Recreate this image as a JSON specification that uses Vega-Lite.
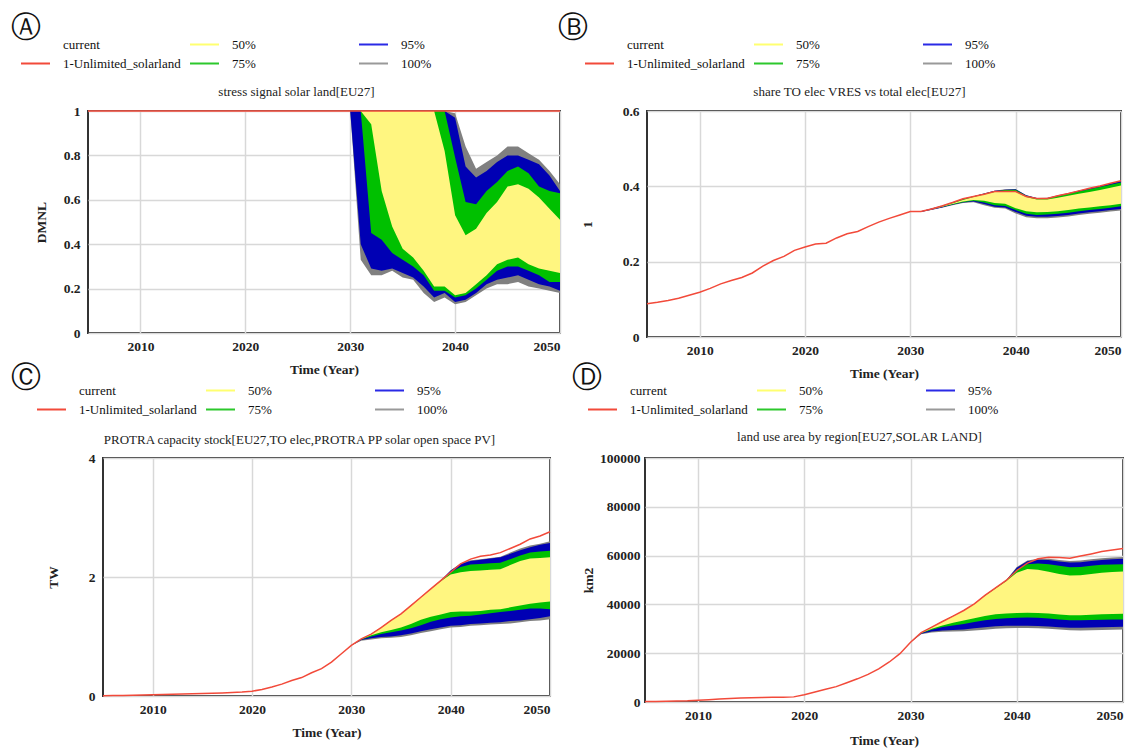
{
"$schema":"https://vega.github.io/schema/vega-lite/v6.json",
"padding":{"left":10,"top":12,"right":0,"bottom":0},
"background":"white",
"config":{
 "view":{"stroke":"#333","strokeWidth":2},
 "font":"Liberation Serif",
 "axis":{"labelFont":"Liberation Serif","labelFontSize":13.5,"labelFontWeight":"bold","labelColor":"#222","titleFont":"Liberation Serif","titleFontSize":13.5,"titleFontWeight":"bold","titleColor":"#222","gridColor":"#d8d8d8","gridWidth":1.5,"ticks":false,"domain":false},
 "legend":{"columns":3,"direction":"horizontal","orient":"none","symbolType":"stroke","symbolSize":841,"symbolStrokeWidth":2,"labelFont":"Liberation Serif","labelFontSize":13,"labelColor":"#111","labelLimit":0,"columnPadding":8,"rowPadding":4,"clipHeight":15,"gridAlign":"all","labelOffset":12,"padding":0},
 "title":{"anchor":"start","frame":"group","font":"DejaVu Sans","fontSize":30,"fontWeight":"normal","color":"#111","offset":-10}
},
"datasets":{
 "lineA":[{"year":2005,"value":1},{"year":2006,"value":1},{"year":2007,"value":1},{"year":2008,"value":1},{"year":2009,"value":1},{"year":2010,"value":1},{"year":2011,"value":1},{"year":2012,"value":1},{"year":2013,"value":1},{"year":2014,"value":1},{"year":2015,"value":1},{"year":2016,"value":1},{"year":2017,"value":1},{"year":2018,"value":1},{"year":2019,"value":1},{"year":2020,"value":1},{"year":2021,"value":1},{"year":2022,"value":1},{"year":2023,"value":1},{"year":2024,"value":1},{"year":2025,"value":1},{"year":2026,"value":1},{"year":2027,"value":1},{"year":2028,"value":1},{"year":2029,"value":1},{"year":2030,"value":1},{"year":2031,"value":1},{"year":2032,"value":1},{"year":2033,"value":1},{"year":2034,"value":1},{"year":2035,"value":1},{"year":2036,"value":1},{"year":2037,"value":1},{"year":2038,"value":1},{"year":2039,"value":1},{"year":2040,"value":1},{"year":2041,"value":1},{"year":2042,"value":1},{"year":2043,"value":1},{"year":2044,"value":1},{"year":2045,"value":1},{"year":2046,"value":1},{"year":2047,"value":1},{"year":2048,"value":1},{"year":2049,"value":1},{"year":2050,"value":1}],
 "bandA":[
  {"year":2030,"lo100":1,"lo95":1,"lo75":1,"lo50":1,"hi50":1,"hi75":1,"hi95":1,"hi100":1},
  {"year":2031,"lo100":0.33,"lo95":0.4,"lo75":1,"lo50":1,"hi50":1,"hi75":1,"hi95":1,"hi100":1},
  {"year":2032,"lo100":0.26,"lo95":0.29,"lo75":0.45,"lo50":0.94,"hi50":1,"hi75":1,"hi95":1,"hi100":1},
  {"year":2033,"lo100":0.26,"lo95":0.28,"lo75":0.42,"lo50":0.64,"hi50":1,"hi75":1,"hi95":1,"hi100":1},
  {"year":2034,"lo100":0.28,"lo95":0.29,"lo75":0.36,"lo50":0.48,"hi50":1,"hi75":1,"hi95":1,"hi100":1},
  {"year":2035,"lo100":0.25,"lo95":0.27,"lo75":0.33,"lo50":0.38,"hi50":1,"hi75":1,"hi95":1,"hi100":1},
  {"year":2036,"lo100":0.24,"lo95":0.25,"lo75":0.3,"lo50":0.34,"hi50":1,"hi75":1,"hi95":1,"hi100":1},
  {"year":2037,"lo100":0.18,"lo95":0.21,"lo75":0.26,"lo50":0.28,"hi50":1,"hi75":1,"hi95":1,"hi100":1},
  {"year":2038,"lo100":0.14,"lo95":0.16,"lo75":0.19,"lo50":0.21,"hi50":1,"hi75":1,"hi95":1,"hi100":1},
  {"year":2039,"lo100":0.16,"lo95":0.18,"lo75":0.19,"lo50":0.21,"hi50":0.82,"hi75":1,"hi95":1,"hi100":1},
  {"year":2040,"lo100":0.13,"lo95":0.14,"lo75":0.16,"lo50":0.17,"hi50":0.53,"hi75":0.79,"hi95":0.97,"hi100":0.99},
  {"year":2041,"lo100":0.14,"lo95":0.15,"lo75":0.17,"lo50":0.18,"hi50":0.44,"hi75":0.59,"hi95":0.75,"hi100":0.84},
  {"year":2042,"lo100":0.17,"lo95":0.18,"lo75":0.2,"lo50":0.22,"hi50":0.47,"hi75":0.58,"hi95":0.7,"hi100":0.74},
  {"year":2043,"lo100":0.2,"lo95":0.22,"lo75":0.24,"lo50":0.26,"hi50":0.54,"hi75":0.64,"hi95":0.73,"hi100":0.77},
  {"year":2044,"lo100":0.22,"lo95":0.24,"lo75":0.28,"lo50":0.31,"hi50":0.59,"hi75":0.68,"hi95":0.77,"hi100":0.8},
  {"year":2045,"lo100":0.22,"lo95":0.25,"lo75":0.3,"lo50":0.33,"hi50":0.66,"hi75":0.73,"hi95":0.8,"hi100":0.84},
  {"year":2046,"lo100":0.23,"lo95":0.26,"lo75":0.3,"lo50":0.34,"hi50":0.67,"hi75":0.75,"hi95":0.8,"hi100":0.84},
  {"year":2047,"lo100":0.21,"lo95":0.24,"lo75":0.28,"lo50":0.31,"hi50":0.65,"hi75":0.72,"hi95":0.78,"hi100":0.81},
  {"year":2048,"lo100":0.2,"lo95":0.22,"lo75":0.26,"lo50":0.29,"hi50":0.61,"hi75":0.66,"hi95":0.76,"hi100":0.78},
  {"year":2049,"lo100":0.19,"lo95":0.21,"lo75":0.23,"lo50":0.28,"hi50":0.56,"hi75":0.64,"hi95":0.71,"hi100":0.73},
  {"year":2050,"lo100":0.18,"lo95":0.19,"lo75":0.23,"lo50":0.27,"hi50":0.51,"hi75":0.63,"hi95":0.64,"hi100":0.67}],
 "lineB":[{"year":2005,"value":0.088},{"year":2006,"value":0.092},{"year":2007,"value":0.097},{"year":2008,"value":0.103},{"year":2009,"value":0.111},{"year":2010,"value":0.119},{"year":2011,"value":0.129},{"year":2012,"value":0.141},{"year":2013,"value":0.15},{"year":2014,"value":0.158},{"year":2015,"value":0.17},{"year":2016,"value":0.188},{"year":2017,"value":0.203},{"year":2018,"value":0.214},{"year":2019,"value":0.23},{"year":2020,"value":0.239},{"year":2021,"value":0.247},{"year":2022,"value":0.249},{"year":2023,"value":0.263},{"year":2024,"value":0.274},{"year":2025,"value":0.28},{"year":2026,"value":0.293},{"year":2027,"value":0.305},{"year":2028,"value":0.315},{"year":2029,"value":0.324},{"year":2030,"value":0.333},{"year":2031,"value":0.333},{"year":2032,"value":0.34},{"year":2033,"value":0.348},{"year":2034,"value":0.357},{"year":2035,"value":0.367},{"year":2036,"value":0.373},{"year":2037,"value":0.379},{"year":2038,"value":0.386},{"year":2039,"value":0.386},{"year":2040,"value":0.386},{"year":2041,"value":0.373},{"year":2042,"value":0.368},{"year":2043,"value":0.368},{"year":2044,"value":0.375},{"year":2045,"value":0.381},{"year":2046,"value":0.388},{"year":2047,"value":0.395},{"year":2048,"value":0.401},{"year":2049,"value":0.408},{"year":2050,"value":0.415}],
 "bandB":[
  {"year":2030,"lo100":0.333,"lo95":0.333,"lo75":0.333,"lo50":0.333,"hi50":0.333,"hi75":0.333,"hi95":0.333,"hi100":0.333},
  {"year":2031,"lo100":0.332,"lo95":0.332,"lo75":0.333,"lo50":0.333,"hi50":0.333,"hi75":0.333,"hi95":0.334,"hi100":0.334},
  {"year":2032,"lo100":0.337,"lo95":0.338,"lo75":0.339,"lo50":0.339,"hi50":0.34,"hi75":0.34,"hi95":0.341,"hi100":0.341},
  {"year":2033,"lo100":0.343,"lo95":0.344,"lo75":0.345,"lo50":0.346,"hi50":0.347,"hi75":0.348,"hi95":0.348,"hi100":0.349},
  {"year":2034,"lo100":0.35,"lo95":0.351,"lo75":0.352,"lo50":0.353,"hi50":0.355,"hi75":0.356,"hi95":0.357,"hi100":0.357},
  {"year":2035,"lo100":0.356,"lo95":0.357,"lo75":0.358,"lo50":0.36,"hi50":0.364,"hi75":0.366,"hi95":0.367,"hi100":0.367},
  {"year":2036,"lo100":0.358,"lo95":0.36,"lo75":0.362,"lo50":0.364,"hi50":0.372,"hi75":0.373,"hi95":0.374,"hi100":0.374},
  {"year":2037,"lo100":0.35,"lo95":0.353,"lo75":0.357,"lo50":0.362,"hi50":0.378,"hi75":0.38,"hi95":0.381,"hi100":0.381},
  {"year":2038,"lo100":0.343,"lo95":0.346,"lo75":0.35,"lo50":0.356,"hi50":0.385,"hi75":0.387,"hi95":0.388,"hi100":0.388},
  {"year":2039,"lo100":0.341,"lo95":0.344,"lo75":0.348,"lo50":0.354,"hi50":0.386,"hi75":0.39,"hi95":0.391,"hi100":0.392},
  {"year":2040,"lo100":0.328,"lo95":0.332,"lo75":0.337,"lo50":0.342,"hi50":0.386,"hi75":0.391,"hi95":0.392,"hi100":0.393},
  {"year":2041,"lo100":0.318,"lo95":0.322,"lo75":0.327,"lo50":0.334,"hi50":0.372,"hi75":0.375,"hi95":0.376,"hi100":0.376},
  {"year":2042,"lo100":0.315,"lo95":0.319,"lo75":0.324,"lo50":0.331,"hi50":0.365,"hi75":0.368,"hi95":0.369,"hi100":0.369},
  {"year":2043,"lo100":0.315,"lo95":0.319,"lo75":0.325,"lo50":0.332,"hi50":0.365,"hi75":0.368,"hi95":0.369,"hi100":0.37},
  {"year":2044,"lo100":0.317,"lo95":0.321,"lo75":0.327,"lo50":0.334,"hi50":0.37,"hi75":0.374,"hi95":0.375,"hi100":0.376},
  {"year":2045,"lo100":0.32,"lo95":0.324,"lo75":0.33,"lo50":0.337,"hi50":0.375,"hi75":0.38,"hi95":0.381,"hi100":0.382},
  {"year":2046,"lo100":0.324,"lo95":0.328,"lo75":0.334,"lo50":0.341,"hi50":0.38,"hi75":0.386,"hi95":0.388,"hi100":0.389},
  {"year":2047,"lo100":0.327,"lo95":0.331,"lo75":0.337,"lo50":0.344,"hi50":0.385,"hi75":0.392,"hi95":0.394,"hi100":0.395},
  {"year":2048,"lo100":0.33,"lo95":0.334,"lo75":0.34,"lo50":0.347,"hi50":0.39,"hi75":0.398,"hi95":0.4,"hi100":0.401},
  {"year":2049,"lo100":0.333,"lo95":0.337,"lo75":0.343,"lo50":0.35,"hi50":0.396,"hi75":0.404,"hi95":0.407,"hi100":0.408},
  {"year":2050,"lo100":0.336,"lo95":0.34,"lo75":0.347,"lo50":0.354,"hi50":0.402,"hi75":0.41,"hi95":0.414,"hi100":0.415}],
 "lineC":[{"year":2005,"value":0.005},{"year":2006,"value":0.007},{"year":2007,"value":0.009},{"year":2008,"value":0.012},{"year":2009,"value":0.016},{"year":2010,"value":0.02},{"year":2011,"value":0.025},{"year":2012,"value":0.03},{"year":2013,"value":0.034},{"year":2014,"value":0.038},{"year":2015,"value":0.042},{"year":2016,"value":0.047},{"year":2017,"value":0.052},{"year":2018,"value":0.058},{"year":2019,"value":0.066},{"year":2020,"value":0.08},{"year":2021,"value":0.11},{"year":2022,"value":0.15},{"year":2023,"value":0.2},{"year":2024,"value":0.26},{"year":2025,"value":0.31},{"year":2026,"value":0.39},{"year":2027,"value":0.46},{"year":2028,"value":0.57},{"year":2029,"value":0.71},{"year":2030,"value":0.85},{"year":2031,"value":0.96},{"year":2032,"value":1.04},{"year":2033,"value":1.15},{"year":2034,"value":1.27},{"year":2035,"value":1.38},{"year":2036,"value":1.52},{"year":2037,"value":1.66},{"year":2038,"value":1.8},{"year":2039,"value":1.94},{"year":2040,"value":2.08},{"year":2041,"value":2.22},{"year":2042,"value":2.3},{"year":2043,"value":2.35},{"year":2044,"value":2.37},{"year":2045,"value":2.41},{"year":2046,"value":2.48},{"year":2047,"value":2.55},{"year":2048,"value":2.64},{"year":2049,"value":2.69},{"year":2050,"value":2.76}],
 "bandC":[
  {"year":2030,"lo100":0.85,"lo95":0.85,"lo75":0.85,"lo50":0.85,"hi50":0.85,"hi75":0.85,"hi95":0.85,"hi100":0.85},
  {"year":2031,"lo100":0.93,"lo95":0.94,"lo75":0.95,"lo50":0.96,"hi50":0.96,"hi75":0.96,"hi95":0.96,"hi100":0.96},
  {"year":2032,"lo100":0.95,"lo95":0.97,"lo75":1.0,"lo50":1.02,"hi50":1.04,"hi75":1.04,"hi95":1.04,"hi100":1.04},
  {"year":2033,"lo100":0.97,"lo95":0.99,"lo75":1.04,"lo50":1.07,"hi50":1.15,"hi75":1.15,"hi95":1.15,"hi100":1.15},
  {"year":2034,"lo100":0.98,"lo95":1.0,"lo75":1.07,"lo50":1.11,"hi50":1.27,"hi75":1.27,"hi95":1.27,"hi100":1.27},
  {"year":2035,"lo100":0.99,"lo95":1.02,"lo75":1.1,"lo50":1.15,"hi50":1.38,"hi75":1.38,"hi95":1.38,"hi100":1.38},
  {"year":2036,"lo100":1.02,"lo95":1.05,"lo75":1.14,"lo50":1.21,"hi50":1.52,"hi75":1.52,"hi95":1.52,"hi100":1.52},
  {"year":2037,"lo100":1.06,"lo95":1.09,"lo75":1.19,"lo50":1.28,"hi50":1.66,"hi75":1.66,"hi95":1.66,"hi100":1.66},
  {"year":2038,"lo100":1.09,"lo95":1.12,"lo75":1.25,"lo50":1.33,"hi50":1.8,"hi75":1.8,"hi95":1.8,"hi100":1.8},
  {"year":2039,"lo100":1.12,"lo95":1.15,"lo75":1.29,"lo50":1.37,"hi50":1.93,"hi75":1.94,"hi95":1.94,"hi100":1.94},
  {"year":2040,"lo100":1.15,"lo95":1.18,"lo75":1.32,"lo50":1.41,"hi50":2.04,"hi75":2.08,"hi95":2.11,"hi100":2.11},
  {"year":2041,"lo100":1.16,"lo95":1.19,"lo75":1.34,"lo50":1.42,"hi50":2.08,"hi75":2.17,"hi95":2.22,"hi100":2.23},
  {"year":2042,"lo100":1.18,"lo95":1.21,"lo75":1.35,"lo50":1.42,"hi50":2.1,"hi75":2.21,"hi95":2.27,"hi100":2.28},
  {"year":2043,"lo100":1.19,"lo95":1.22,"lo75":1.37,"lo50":1.43,"hi50":2.11,"hi75":2.22,"hi95":2.29,"hi100":2.3},
  {"year":2044,"lo100":1.2,"lo95":1.23,"lo75":1.39,"lo50":1.45,"hi50":2.12,"hi75":2.23,"hi95":2.31,"hi100":2.32},
  {"year":2045,"lo100":1.21,"lo95":1.24,"lo75":1.41,"lo50":1.46,"hi50":2.13,"hi75":2.24,"hi95":2.33,"hi100":2.34},
  {"year":2046,"lo100":1.22,"lo95":1.26,"lo75":1.43,"lo50":1.49,"hi50":2.2,"hi75":2.3,"hi95":2.39,"hi100":2.41},
  {"year":2047,"lo100":1.24,"lo95":1.27,"lo75":1.45,"lo50":1.52,"hi50":2.27,"hi75":2.36,"hi95":2.45,"hi100":2.48},
  {"year":2048,"lo100":1.26,"lo95":1.29,"lo75":1.47,"lo50":1.55,"hi50":2.31,"hi75":2.41,"hi95":2.5,"hi100":2.53},
  {"year":2049,"lo100":1.27,"lo95":1.31,"lo75":1.47,"lo50":1.57,"hi50":2.32,"hi75":2.43,"hi95":2.54,"hi100":2.56},
  {"year":2050,"lo100":1.29,"lo95":1.34,"lo75":1.46,"lo50":1.59,"hi50":2.33,"hi75":2.44,"hi95":2.57,"hi100":2.6}],
 "lineD":[{"year":2005,"value":200},{"year":2006,"value":250},{"year":2007,"value":300},{"year":2008,"value":400},{"year":2009,"value":500},{"year":2010,"value":700},{"year":2011,"value":950},{"year":2012,"value":1200},{"year":2013,"value":1450},{"year":2014,"value":1650},{"year":2015,"value":1750},{"year":2016,"value":1850},{"year":2017,"value":1900},{"year":2018,"value":1950},{"year":2019,"value":2100},{"year":2020,"value":3000},{"year":2021,"value":4100},{"year":2022,"value":5200},{"year":2023,"value":6300},{"year":2024,"value":7900},{"year":2025,"value":9500},{"year":2026,"value":11300},{"year":2027,"value":13600},{"year":2028,"value":16400},{"year":2029,"value":19800},{"year":2030,"value":24500},{"year":2031,"value":28400},{"year":2032,"value":30700},{"year":2033,"value":33000},{"year":2034,"value":35200},{"year":2035,"value":37500},{"year":2036,"value":40200},{"year":2037,"value":43700},{"year":2038,"value":46800},{"year":2039,"value":49800},{"year":2040,"value":53900},{"year":2041,"value":56900},{"year":2042,"value":58700},{"year":2043,"value":59300},{"year":2044,"value":59200},{"year":2045,"value":58900},{"year":2046,"value":59800},{"year":2047,"value":60700},{"year":2048,"value":61700},{"year":2049,"value":62300},{"year":2050,"value":62900}],
 "bandD":[
  {"year":2030,"lo100":24500,"lo95":24500,"lo75":24500,"lo50":24500,"hi50":24500,"hi75":24500,"hi95":24500,"hi100":24500},
  {"year":2031,"lo100":27800,"lo95":28000,"lo75":28200,"lo50":28300,"hi50":28400,"hi75":28400,"hi95":28400,"hi100":28400},
  {"year":2032,"lo100":28500,"lo95":28900,"lo75":29600,"lo50":30000,"hi50":30700,"hi75":30700,"hi95":30700,"hi100":30700},
  {"year":2033,"lo100":28800,"lo95":29300,"lo75":30700,"lo50":31400,"hi50":33000,"hi75":33000,"hi95":33000,"hi100":33000},
  {"year":2034,"lo100":28900,"lo95":29500,"lo75":31400,"lo50":32500,"hi50":35200,"hi75":35200,"hi95":35200,"hi100":35200},
  {"year":2035,"lo100":29000,"lo95":29700,"lo75":32000,"lo50":33400,"hi50":37500,"hi75":37500,"hi95":37500,"hi100":37500},
  {"year":2036,"lo100":29300,"lo95":30200,"lo75":32800,"lo50":34300,"hi50":40200,"hi75":40200,"hi95":40200,"hi100":40200},
  {"year":2037,"lo100":29600,"lo95":30600,"lo75":33500,"lo50":35200,"hi50":43500,"hi75":43600,"hi95":43700,"hi100":43700},
  {"year":2038,"lo100":30000,"lo95":31000,"lo75":34000,"lo50":36000,"hi50":46500,"hi75":46700,"hi95":46800,"hi100":46800},
  {"year":2039,"lo100":30200,"lo95":31200,"lo75":34300,"lo50":36300,"hi50":49500,"hi75":49800,"hi95":49900,"hi100":49900},
  {"year":2040,"lo100":30300,"lo95":31200,"lo75":34500,"lo50":36500,"hi50":53000,"hi75":54300,"hi95":55000,"hi100":55300},
  {"year":2041,"lo100":30300,"lo95":31200,"lo75":34600,"lo50":36600,"hi50":54500,"hi75":56500,"hi95":57700,"hi100":58000},
  {"year":2042,"lo100":30200,"lo95":31100,"lo75":34500,"lo50":36500,"hi50":54200,"hi75":56800,"hi95":58300,"hi100":58700},
  {"year":2043,"lo100":30000,"lo95":30900,"lo75":34200,"lo50":36300,"hi50":53400,"hi75":56500,"hi95":58200,"hi100":58700},
  {"year":2044,"lo100":29700,"lo95":30600,"lo75":33800,"lo50":35900,"hi50":52500,"hi75":55800,"hi95":57600,"hi100":58200},
  {"year":2045,"lo100":29400,"lo95":30400,"lo75":33500,"lo50":35600,"hi50":51800,"hi75":55200,"hi95":57200,"hi100":57800},
  {"year":2046,"lo100":29300,"lo95":30400,"lo75":33500,"lo50":35600,"hi50":51900,"hi75":55300,"hi95":57300,"hi100":58000},
  {"year":2047,"lo100":29400,"lo95":30500,"lo75":33600,"lo50":35800,"hi50":52500,"hi75":55800,"hi95":57800,"hi100":58500},
  {"year":2048,"lo100":29500,"lo95":30600,"lo75":33700,"lo50":36000,"hi50":53000,"hi75":56200,"hi95":58200,"hi100":58900},
  {"year":2049,"lo100":29600,"lo95":30700,"lo75":33800,"lo50":36100,"hi50":53300,"hi75":56400,"hi95":58500,"hi100":59200},
  {"year":2050,"lo100":29700,"lo95":30800,"lo75":33800,"lo50":36200,"hi50":53500,"hi75":56500,"hi95":58700,"hi100":59400}]
},
"spacing":-19,
"resolve":{"scale":{"fill":"independent","stroke":"independent"}},
"vconcat":[
 {"hconcat":[
  {"width":472,"height":222,
   "title":{"text":"Ⓐ","dx":-77,"offset":-6},
   "layer":[
    {"data":{"name":"bandA"},"mark":{"type":"area","opacity":1},"encoding":{
      "x":{"field":"year","type":"quantitative","scale":{"domain":[2005,2050]},"axis":{"values":[2010,2020,2030,2040,2050],"format":"d","labelPadding":6,"title":"Time (Year)","titleY":36,"titleBaseline":"middle","grid":true}},
      "y":{"field":"lo100","type":"quantitative","scale":{"domain":[0,1],"nice":false},"axis":{"values":[0,0.2,0.4,0.6,0.8,1],"format":"~g","labelPadding":8,"title":"DMNL","titleX":-47,"titleY":111,"titleBaseline":"middle","grid":true}},
      "y2":{"field":"hi100"},
      "fill":{"datum":"100%","type":"nominal","scale":{"domain":["50%","75%","95%","100%"],"range":["#fff680","#00c000","#0000b4","#808080"]},"legend":null}}},
    {"data":{"name":"bandA"},"mark":{"type":"area","opacity":1},"encoding":{"x":{"field":"year","type":"quantitative","axis":null},"y":{"field":"lo95","type":"quantitative","axis":null},"y2":{"field":"hi95"},"fill":{"datum":"95%","type":"nominal","legend":null}}},
    {"data":{"name":"bandA"},"mark":{"type":"area","opacity":1},"encoding":{"x":{"field":"year","type":"quantitative","axis":null},"y":{"field":"lo75","type":"quantitative","axis":null},"y2":{"field":"hi75"},"fill":{"datum":"75%","type":"nominal","legend":null}}},
    {"data":{"name":"bandA"},"mark":{"type":"area","opacity":1},"encoding":{"x":{"field":"year","type":"quantitative","axis":null},"y":{"field":"lo50","type":"quantitative","axis":null},"y2":{"field":"hi50"},"fill":{"datum":"50%","type":"nominal","legend":null}}},
    {"data":{"name":"lineA"},"mark":{"type":"line","strokeWidth":1.5},"encoding":{
      "x":{"field":"year","type":"quantitative","axis":{"orient":"top","labels":false,"grid":false,"title":"stress signal solar land[EU27]","titleFontWeight":"normal","titleFontSize":13,"titleX":208,"titleY":-20,"titleBaseline":"middle"}},
      "y":{"field":"value","type":"quantitative","axis":null},
      "stroke":{"datum":"1-Unlimited_solarland","type":"nominal","scale":{"domain":["current","50%","95%","1-Unlimited_solarland","75%","100%"],"range":["rgba(0,0,0,0)","#ffff70","#2a2ae6","#f24a3a","#2cc82c","#999999"]},"legend":{"title":null,"legendX":-68,"legendY":-74}}}}
   ],
   "resolve":{"axis":{"x":"independent","y":"independent"}}},
  {"width":474,"height":226,
   "title":{"text":"Ⓑ","dx":-89,"offset":-6},
   "layer":[
    {"data":{"name":"bandB"},"mark":{"type":"area","opacity":1},"encoding":{
      "x":{"field":"year","type":"quantitative","scale":{"domain":[2005,2050]},"axis":{"values":[2010,2020,2030,2040,2050],"format":"d","labelPadding":6,"title":"Time (Year)","titleY":36,"titleBaseline":"middle","grid":true}},
      "y":{"field":"lo100","type":"quantitative","scale":{"domain":[0,0.6],"nice":false},"axis":{"values":[0,0.2,0.4,0.6],"format":"~g","labelPadding":8,"title":"1","titleX":-60,"titleY":113,"titleBaseline":"middle","grid":true}},
      "y2":{"field":"hi100"},
      "fill":{"datum":"100%","type":"nominal","scale":{"domain":["50%","75%","95%","100%"],"range":["#fff680","#00c000","#0000b4","#808080"]},"legend":null}}},
    {"data":{"name":"bandB"},"mark":{"type":"area","opacity":1},"encoding":{"x":{"field":"year","type":"quantitative","axis":null},"y":{"field":"lo95","type":"quantitative","axis":null},"y2":{"field":"hi95"},"fill":{"datum":"95%","type":"nominal","legend":null}}},
    {"data":{"name":"bandB"},"mark":{"type":"area","opacity":1},"encoding":{"x":{"field":"year","type":"quantitative","axis":null},"y":{"field":"lo75","type":"quantitative","axis":null},"y2":{"field":"hi75"},"fill":{"datum":"75%","type":"nominal","legend":null}}},
    {"data":{"name":"bandB"},"mark":{"type":"area","opacity":1},"encoding":{"x":{"field":"year","type":"quantitative","axis":null},"y":{"field":"lo50","type":"quantitative","axis":null},"y2":{"field":"hi50"},"fill":{"datum":"50%","type":"nominal","legend":null}}},
    {"data":{"name":"lineB"},"mark":{"type":"line","strokeWidth":1.5},"encoding":{
      "x":{"field":"year","type":"quantitative","axis":{"orient":"top","labels":false,"grid":false,"title":"share TO elec VRES vs total elec[EU27]","titleFontWeight":"normal","titleFontSize":13,"titleX":212,"titleY":-20,"titleBaseline":"middle"}},
      "y":{"field":"value","type":"quantitative","axis":null},
      "stroke":{"datum":"1-Unlimited_solarland","type":"nominal","scale":{"domain":["current","50%","95%","1-Unlimited_solarland","75%","100%"],"range":["rgba(0,0,0,0)","#ffff70","#2a2ae6","#f24a3a","#2cc82c","#999999"]},"legend":{"title":null,"legendX":-63,"legendY":-74}}}}
   ],
   "resolve":{"axis":{"x":"independent","y":"independent"}}}
 ],
 "spacing":87,"bounds":"flush",
 "resolve":{"scale":{"fill":"independent","stroke":"independent"}}},
 {"hconcat":[
  {"width":1,"height":1,"data":{"values":[]},"mark":"point","view":{"stroke":null}},
  {"hconcat":[
   {"width":447,"height":238,
    "title":{"text":"Ⓒ","dx":-92},
    "layer":[
     {"data":{"name":"bandC"},"mark":{"type":"area","opacity":1},"encoding":{
       "x":{"field":"year","type":"quantitative","scale":{"domain":[2005,2050]},"axis":{"values":[2010,2020,2030,2040,2050],"format":"d","labelPadding":6,"title":"Time (Year)","titleY":36,"titleBaseline":"middle","grid":true}},
       "y":{"field":"lo100","type":"quantitative","scale":{"domain":[0,4],"nice":false},"axis":{"values":[0,2,4],"format":"~g","labelPadding":8,"title":"TW","titleX":-50,"titleY":119,"titleBaseline":"middle","grid":true}},
       "y2":{"field":"hi100"},
       "fill":{"datum":"100%","type":"nominal","scale":{"domain":["50%","75%","95%","100%"],"range":["#fff680","#00c000","#0000b4","#808080"]},"legend":null}}},
     {"data":{"name":"bandC"},"mark":{"type":"area","opacity":1},"encoding":{"x":{"field":"year","type":"quantitative","axis":null},"y":{"field":"lo95","type":"quantitative","axis":null},"y2":{"field":"hi95"},"fill":{"datum":"95%","type":"nominal","legend":null}}},
     {"data":{"name":"bandC"},"mark":{"type":"area","opacity":1},"encoding":{"x":{"field":"year","type":"quantitative","axis":null},"y":{"field":"lo75","type":"quantitative","axis":null},"y2":{"field":"hi75"},"fill":{"datum":"75%","type":"nominal","legend":null}}},
     {"data":{"name":"bandC"},"mark":{"type":"area","opacity":1},"encoding":{"x":{"field":"year","type":"quantitative","axis":null},"y":{"field":"lo50","type":"quantitative","axis":null},"y2":{"field":"hi50"},"fill":{"datum":"50%","type":"nominal","legend":null}}},
     {"data":{"name":"lineC"},"mark":{"type":"line","strokeWidth":1.5},"encoding":{
       "x":{"field":"year","type":"quantitative","axis":{"orient":"top","labels":false,"grid":false,"title":"PROTRA capacity stock[EU27,TO elec,PROTRA PP solar open space PV]","titleFontWeight":"normal","titleFontSize":13,"titleX":196,"titleY":-19,"titleBaseline":"middle"}},
       "y":{"field":"value","type":"quantitative","axis":null},
       "stroke":{"datum":"1-Unlimited_solarland","type":"nominal","scale":{"domain":["current","50%","95%","1-Unlimited_solarland","75%","100%"],"range":["rgba(0,0,0,0)","#ffff70","#2a2ae6","#f24a3a","#2cc82c","#999999"]},"legend":{"title":null,"legendX":-67,"legendY":-75}}}}
    ],
    "resolve":{"axis":{"x":"independent","y":"independent"}}},
   {"width":478,"height":244,
    "title":{"text":"Ⓓ","dx":-73},
    "layer":[
     {"data":{"name":"bandD"},"mark":{"type":"area","opacity":1},"encoding":{
       "x":{"field":"year","type":"quantitative","scale":{"domain":[2005,2050]},"axis":{"values":[2010,2020,2030,2040,2050],"format":"d","labelPadding":6,"title":"Time (Year)","titleY":38,"titleBaseline":"middle","grid":true}},
       "y":{"field":"lo100","type":"quantitative","scale":{"domain":[0,100000],"nice":false},"axis":{"values":[0,20000,40000,60000,80000,100000],"format":"d","labelPadding":5,"title":"km2","titleX":-57,"titleY":122,"titleBaseline":"middle","grid":true}},
       "y2":{"field":"hi100"},
       "fill":{"datum":"100%","type":"nominal","scale":{"domain":["50%","75%","95%","100%"],"range":["#fff680","#00c000","#0000b4","#808080"]},"legend":null}}},
     {"data":{"name":"bandD"},"mark":{"type":"area","opacity":1},"encoding":{"x":{"field":"year","type":"quantitative","axis":null},"y":{"field":"lo95","type":"quantitative","axis":null},"y2":{"field":"hi95"},"fill":{"datum":"95%","type":"nominal","legend":null}}},
     {"data":{"name":"bandD"},"mark":{"type":"area","opacity":1},"encoding":{"x":{"field":"year","type":"quantitative","axis":null},"y":{"field":"lo75","type":"quantitative","axis":null},"y2":{"field":"hi75"},"fill":{"datum":"75%","type":"nominal","legend":null}}},
     {"data":{"name":"bandD"},"mark":{"type":"area","opacity":1},"encoding":{"x":{"field":"year","type":"quantitative","axis":null},"y":{"field":"lo50","type":"quantitative","axis":null},"y2":{"field":"hi50"},"fill":{"datum":"50%","type":"nominal","legend":null}}},
     {"data":{"name":"lineD"},"mark":{"type":"line","strokeWidth":1.5},"encoding":{
       "x":{"field":"year","type":"quantitative","axis":{"orient":"top","labels":false,"grid":false,"title":"land use area by region[EU27,SOLAR LAND]","titleFontWeight":"normal","titleFontSize":13,"titleX":214,"titleY":-22,"titleBaseline":"middle"}},
       "y":{"field":"value","type":"quantitative","axis":null},
       "stroke":{"datum":"1-Unlimited_solarland","type":"nominal","scale":{"domain":["current","50%","95%","1-Unlimited_solarland","75%","100%"],"range":["rgba(0,0,0,0)","#ffff70","#2a2ae6","#f24a3a","#2cc82c","#999999"]},"legend":{"title":null,"legendX":-58,"legendY":-75}}}}
    ],
    "resolve":{"axis":{"x":"independent","y":"independent"}}}
  ],
  "spacing":95,"bounds":"flush",
  "resolve":{"scale":{"fill":"independent","stroke":"independent"}}}
 ],
 "spacing":14,"bounds":"flush",
 "resolve":{"scale":{"fill":"independent","stroke":"independent"}}}
]
}
